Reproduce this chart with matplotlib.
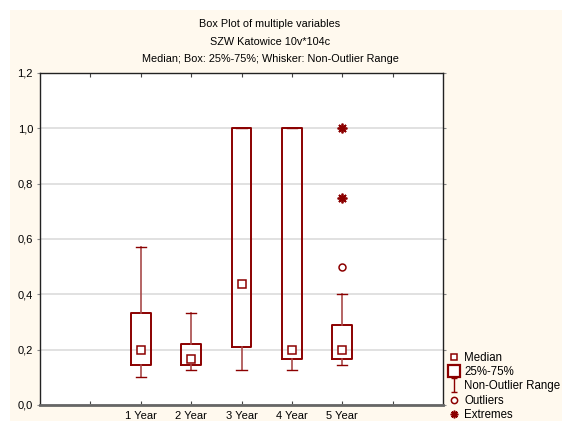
import matplotlib
matplotlib.use("Agg")
import matplotlib.pyplot as plt
from matplotlib.lines import Line2D
from matplotlib.patches import Rectangle
from matplotlib.path import Path

plt.rcParams['font.family'] = ['Liberation Sans', 'DejaVu Sans']

# ---------------- DATOS ----------------
etiquetas = ["1 Year", "2 Year", "3 Year", "4 Year", "5 Year"]
posiciones = [2, 3, 4, 5, 6]
mediana = [0.200, 0.167, 0.437, 0.200, 0.200]
q1 = [0.143, 0.143, 0.208, 0.168, 0.168]
q3 = [0.334, 0.220, 1.000, 1.000, 0.290]
bigote_min = [0.100, 0.126, 0.126, 0.126, 0.143]
bigote_max = [0.572, 0.334, 1.000, 1.000, 0.401]

outliers_x = [6]
outliers_y = [0.50]
extremos_x = [6, 6]
extremos_y = [1.00, 0.75]

ROJO = "#8b0000"
ROJO_CLARO = "#a84a4a"

fig = plt.figure(figsize=(5.62, 4.21), dpi=100, facecolor="white")
fig.add_artist(Rectangle((10 / 562, 0), 1, 1 - 10 / 421, transform=fig.transFigure,
                         facecolor="#fff9ee", edgecolor="none", zorder=-10))

ax = fig.add_axes([40 / 562, 1 - 405 / 421, 403 / 562, 332 / 421])
ax.set_facecolor("white")

stats = []
for i in range(len(etiquetas)):
    stats.append({
        "med": mediana[i], "q1": q1[i], "q3": q3[i],
        "whislo": bigote_min[i], "whishi": bigote_max[i], "fliers": [],
    })

ax.bxp(stats, positions=posiciones, widths=0.39, showfliers=False,
       boxprops=dict(color=ROJO, linewidth=1.4),
       whiskerprops=dict(color=ROJO_CLARO, linewidth=1.2),
       capprops=dict(color=ROJO, linewidth=1.0),
       medianprops=dict(linewidth=0), capwidths=0.2, zorder=3)

ax.plot(posiciones, mediana, linestyle="none", marker="s", markersize=5.5,
        markerfacecolor="white", markeredgecolor=ROJO, markeredgewidth=1.1, zorder=4)
ax.plot(outliers_x, outliers_y, linestyle="none", marker="o", markersize=5,
        markerfacecolor="white", markeredgecolor=ROJO, markeredgewidth=1.1, zorder=4)
ax.plot(extremos_x, extremos_y, linestyle="none", marker=(8, 2, 0), markersize=7,
        color=ROJO, markeredgewidth=1.3, zorder=4)

ax.set_xlim(0, 8)
ax.set_ylim(0, 1.2)
ax.set_xticks(range(1, 8))
ax.set_xticklabels([""] + etiquetas + [""], fontsize=8)
ax.set_yticks([0, 0.2, 0.4, 0.6, 0.8, 1.0, 1.2])
ax.set_yticklabels(["0,0", "0,2", "0,4", "0,6", "0,8", "1,0", "1,2"], fontsize=8)
ax.yaxis.grid(True, color="#dcdcdc", linewidth=1.2, zorder=0)
ax.set_axisbelow(True)
ax.tick_params(axis="x", direction="in", length=3, top=True, color="#444444", pad=4)
ax.tick_params(axis="y", direction="out", length=2, right=True, color="#888888", pad=3)

for lado in ["top", "right", "left"]:
    ax.spines[lado].set_linewidth(1.0)
    ax.spines[lado].set_color("#222222")
ax.spines["bottom"].set_linewidth(2.0)
ax.spines["bottom"].set_color("#666666")

xc = 270 / 562
fig.text(xc, 1 - 24 / 421, "Box Plot of multiple variables", ha="center", va="center", fontsize=7.8)
fig.text(xc, 1 - 42 / 421, "SZW Katowice 10v*104c", ha="center", va="center", fontsize=7.8)
fig.text(xc, 1 - 59 / 421, "Median; Box: 25%-75%; Whisker: Non-Outlier Range",
         ha="center", va="center", fontsize=7.8)

# ---------------- LEYENDA ----------------
ibeam = Path([(-0.5, 1), (0.5, 1), (0, 1), (0, -1), (-0.5, -1), (0.5, -1)],
             [Path.MOVETO, Path.LINETO, Path.MOVETO, Path.LINETO, Path.MOVETO, Path.LINETO])
handles = [
    Line2D([], [], linestyle="none", marker="s", markersize=5, markerfacecolor="white",
           markeredgecolor=ROJO, markeredgewidth=1.1),
    Line2D([], [], linestyle="none", marker="s", markersize=9, markerfacecolor="white",
           markeredgecolor=ROJO, markeredgewidth=1.6),
    Line2D([], [], linestyle="none", marker=ibeam, markersize=10, markerfacecolor="none",
           markeredgecolor=ROJO, markeredgewidth=1.0),
    Line2D([], [], linestyle="none", marker="o", markersize=4.5, markerfacecolor="white",
           markeredgecolor=ROJO, markeredgewidth=1.1),
    Line2D([], [], linestyle="none", marker=(8, 2, 0), markersize=5.5, color=ROJO,
           markeredgewidth=1.2),
]
nombres = ["Median", "25%-75%", "Non-Outlier Range", "Outliers", "Extremes"]
ax.legend(handles, nombres, loc="lower left", bbox_to_anchor=(1.005, -0.061),
          frameon=False, fontsize=8.3, handlelength=0.8, handletextpad=0.45,
          labelspacing=0.18, borderaxespad=0)

fig.savefig("out.png", dpi=100, facecolor=fig.get_facecolor())
plt.close(fig)
